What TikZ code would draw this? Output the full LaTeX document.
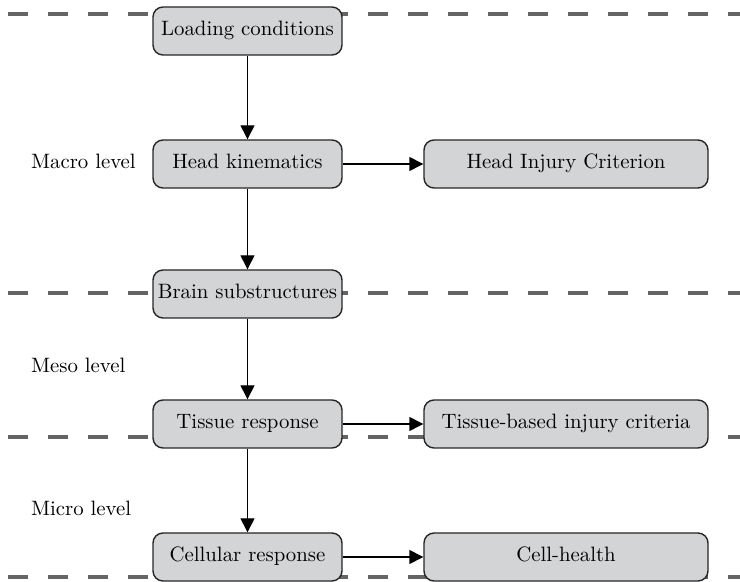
\documentclass[tikz,border=0pt]{standalone}
\usepackage{amsmath,amssymb,amsfonts}
\usepackage{xcolor}
\usepackage{tikz}
\usetikzlibrary{arrows.meta}
\definecolor{boxgray}{RGB}{211,212,214}
\definecolor{linegray}{RGB}{100,100,100}

\begin{document}
\begin{tikzpicture}[x=0.5pt,y=-0.5pt,font=\fontsize{10.4pt}{12pt}\selectfont,
    blockbox/.style={draw=black!85,fill=boxgray,line width=0.7pt,rounded corners=5pt,
        minimum height=24pt,text height=7pt,text depth=2pt,inner sep=2pt},
    smallbox/.style={blockbox,minimum width=94.5pt},
    widebox/.style={blockbox,minimum width=142pt},
    flow/.style={line width=0.7pt,-{Triangle[length=7pt,width=7pt]}},
    levelline/.style={linegray,line width=1.6pt,dash pattern=on 10pt off 10pt}]
\useasboundingbox (0,0) rectangle (740,582);
\foreach \y in {14,293,437,577}
    \draw[levelline] (8,\y) -- (740,\y);
\node[smallbox] (loading) at (247.5,31) {Loading conditions};
\node[smallbox] (headkin) at (247.5,164) {Head kinematics};
\node[widebox] (hic) at (566,164) {Head Injury Criterion};
\node[smallbox] (brain) at (247.5,294) {Brain substructures};
\node[smallbox] (tissue) at (247.5,424) {Tissue response};
\node[widebox] (tissuecrit) at (566,424) {Tissue-based injury criteria};
\node[smallbox] (cellular) at (247.5,557) {Cellular response};
\node[widebox] (cellhealth) at (566,557) {Cell-health};
\draw[flow] (loading) -- (headkin);
\draw[flow] (headkin) -- (hic);
\draw[flow] (headkin) -- (brain);
\draw[flow] (brain) -- (tissue);
\draw[flow] (tissue) -- (tissuecrit);
\draw[flow] (tissue) -- (cellular);
\draw[flow] (cellular) -- (cellhealth);
\node[right] (macro) at (24,161) {Macro level};
\node[right] (meso) at (24,365) {Meso level};
\node[right] (micro) at (24,508) {Micro level};
\end{tikzpicture}
\end{document}
